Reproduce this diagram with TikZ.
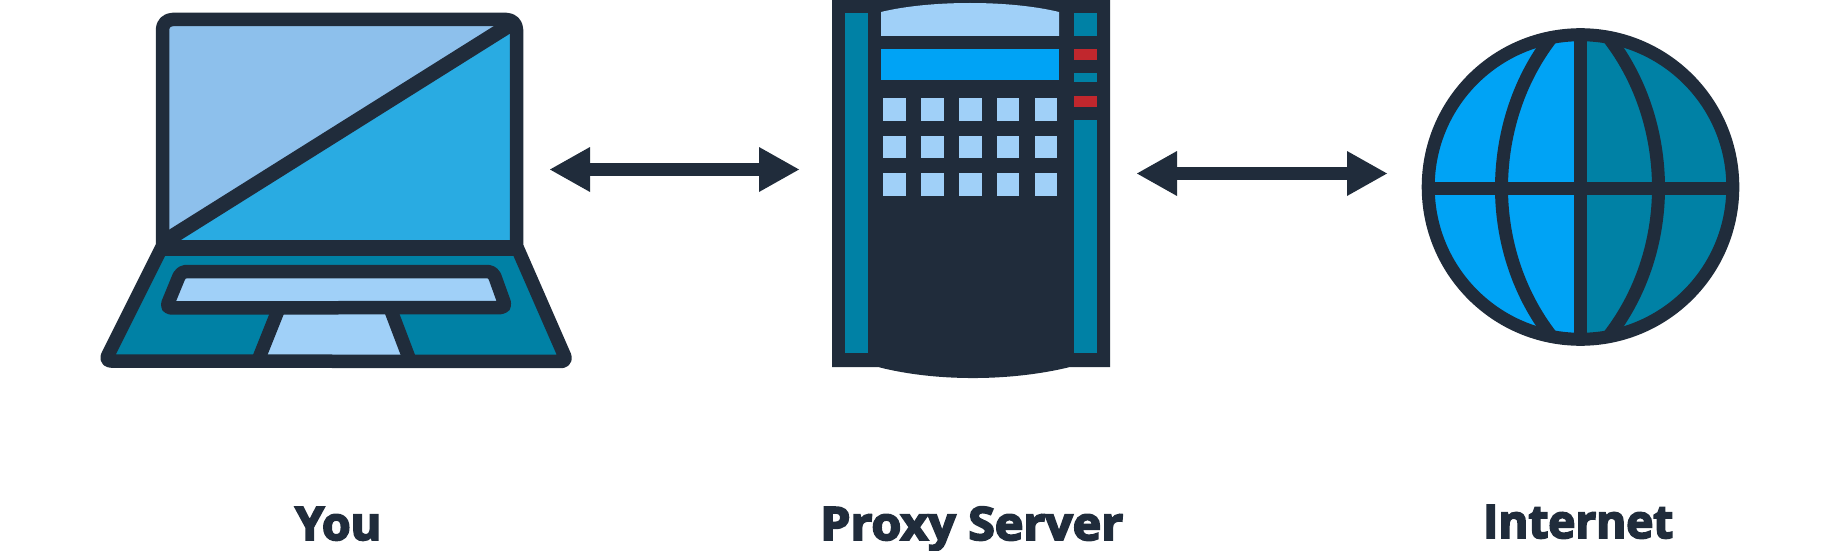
\documentclass[tikz,border=0pt]{standalone}
\usepackage{fontspec}
\usetikzlibrary{arrows.meta}
\newfontfamily\lblfont{Open Sans}[BoldFeatures={FakeBold=4}]
\definecolor{ink}{HTML}{202C3B}
\definecolor{paleblue}{HTML}{8DC0EC}
\definecolor{midblue}{HTML}{29ABE2}
\definecolor{tealblue}{HTML}{0081A5}
\definecolor{keyblue}{HTML}{A0D0F8}
\definecolor{brightblue}{HTML}{00A3F5}
\definecolor{ledred}{HTML}{C1272D}
\tikzset{
  x=1pt,y=-1pt,
  outline/.style={draw=ink,line width=13.5pt,line join=round},
  biarrow/.style={draw=ink,line width=13pt,{Triangle[length=40pt,width=45pt,line width=0pt]}-{Triangle[length=40pt,width=45pt,line width=0pt]}},
  lbl/.style={text=ink,inner sep=0pt,anchor=base west,font=\lblfont\bfseries\fontsize{46pt}{46pt}\selectfont}
}
\begin{document}
\begin{tikzpicture}
\useasboundingbox (0,0) rectangle (1838,551);
% ---- laptop
\fill[midblue] (162.5,248) -- (162.5,19.5) -- (516.5,19.5) -- (516.5,248) -- cycle;
\fill[paleblue] (162.5,243) -- (162.5,19.5) -- (516,19.5) -- cycle;
\fill[tealblue] (160,250) -- (518,250) -- (567,361) -- (105,361) -- cycle;
\draw[outline,line width=15pt] (162,243) -- (516,21);
\fill[keyblue] (277,314) -- (392,314) -- (408,361) -- (259,361) -- cycle;
\draw[outline] (279,308) -- (259,358);
\draw[outline] (390,308) -- (409,358);
\draw[outline,rounded corners=5pt,fill=keyblue] (181,271.5) -- (493,271.5) -- (506,307.5) -- (166,308) -- cycle;
\draw[outline] (162.5,246) [rounded corners=10pt] -- (162.5,19.5) -- (516.5,19.5) [sharp corners] -- (516.5,246) [rounded corners=6pt] -- (567,361.5) -- (105,361) [sharp corners] -- (162.5,246) -- cycle;
\fill[ink] (162,240) rectangle (517,256);
% ---- server
\fill[ink] (832,0) -- (1110,0) -- (1110,367) -- (1070,367) .. controls (1010,381.7) and (935,381.7) .. (878,367) -- (832,367) -- cycle;
\fill[tealblue] (845,13) rectangle (868,353);
\fill[keyblue] (881,12) .. controls (930,0) and (1010,0) .. (1059,12) -- (1059,36) -- (881,36) -- cycle;
\fill[brightblue] (881,49) rectangle (1059,80);
\fill[tealblue] (1074,13) rectangle (1097,36);
\fill[ledred] (1074,49) rectangle (1097,60);
\fill[tealblue] (1074,73) rectangle (1097,82);
\fill[ledred] (1074,96) rectangle (1097,107);
\fill[tealblue] (1074,120) rectangle (1097,353);
\foreach \ky in {98,135.5,173}{
  \foreach \kx in {883.3,921,959,996.7,1034.7}{
    \fill[keyblue] (\kx,\ky) rectangle ++(22.5,22.5);
  }
}
% ---- globe
\begin{scope}
\clip (1580.5,187) circle[radius=152];
\fill[brightblue] (1420,30) rectangle (1580.5,345);
\fill[tealblue] (1580.5,30) rectangle (1740,345);
\draw[outline,line width=13pt] (1580.3,30) -- (1580.3,345);
\draw[outline,line width=13pt] (1420,188) -- (1740,188);
\draw[outline,line width=13pt] (1556,32) .. controls (1518,78) and (1501.5,135) .. (1501.5,188) .. controls (1501.5,240) and (1518,296) .. (1556,342);
\draw[outline,line width=13pt] (1604,32) .. controls (1642,78) and (1658.5,135) .. (1658.5,188) .. controls (1658.5,240) and (1642,296) .. (1604,342);
\end{scope}
\draw[outline,line width=13pt] (1580.5,187) circle[radius=152.3];
% ---- connectors
\coordinate (a1w) at (550,169.5);
\coordinate (a1e) at (799,169.5);
\coordinate (a2w) at (1137,173.5);
\coordinate (a2e) at (1387,173.5);
\draw[biarrow] (a1w) -- (a1e);
\draw[biarrow] (a2w) -- (a2e);
% ---- labels
\node[lbl] (you) at (295,540) {\resizebox{86pt}{\height}{You}};
\node[lbl] (proxy) at (820,540) {\resizebox{303pt}{\height}{Proxy Server}};
\node[lbl] (internet) at (1483,538) {\resizebox{190pt}{\height}{Internet}};
\end{tikzpicture}
\end{document}
